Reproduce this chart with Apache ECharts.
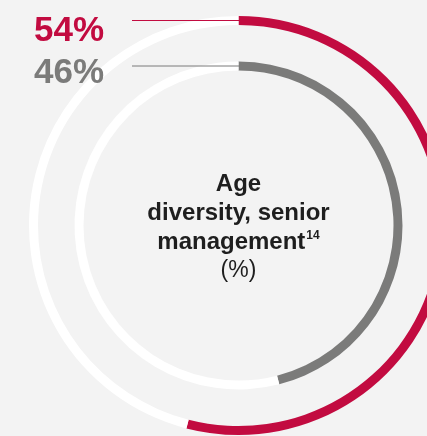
<!DOCTYPE html>
<html>
<head>
<meta charset="utf-8">
<script src="https://cdn.jsdelivr.net/npm/echarts@6/dist/echarts.min.js"></script>
<style>
  html, body { margin: 0; padding: 0; background: #f3f3f3; }
  #chart { width: 427px; height: 436px; }
</style>
</head>
<body>
<div id="chart"></div>
<script>
// Age diversity, senior management (%)
const groups = ['Group A', 'Group B'];
const shares = [54, 46];
const colors = ['#c20b40', '#7b7b7a'];
const trackColor = '#ffffff';

const cx = 238.5;
const cy = 225.5;
const rings = [
  [200.5, 209.5],
  [155, 164]
];
const labelTops = [14, 56];

const chart = echarts.init(document.getElementById('chart'));

const series = shares.map((v, i) => ({
  type: 'pie',
  silent: true,
  center: [cx, cy],
  radius: rings[i],
  startAngle: 90,
  clockwise: true,
  label: { show: false },
  labelLine: { show: false },
  emphasis: { disabled: true },
  itemStyle: { borderWidth: 0 },
  data: [
    { name: groups[i], value: v, itemStyle: { color: colors[i] } },
    { name: 'rest', value: 100 - v, itemStyle: { color: trackColor } }
  ]
}));

// leader lines + big percentage labels
const graphics = [];
shares.forEach((v, i) => {
  const y = cy - (rings[i][0] + rings[i][1]) / 2;
  graphics.push({
    type: 'line',
    silent: true,
    z: 100,
    shape: { x1: 132, y1: y, x2: cx + 1, y2: y },
    style: { stroke: colors[i], lineWidth: 1 }
  });
  graphics.push({
    type: 'text',
    silent: true,
    z: 100,
    left: 34,
    top: labelTops[i],
    style: {
      text: v + '%',
      fill: colors[i],
      font: 'bold 35px "Liberation Sans", Arial, sans-serif'
    }
  });
});

graphics.push({
  type: 'text',
  silent: true,
  z: 100,
  x: cx,
  y: 170,
  style: {
    text: '{b|Age}\n{b|diversity, senior}\n{b|management}{s|14}\n{r|(%)}',
    align: 'center',
    fill: '#1e1e1e',
    rich: {
      b: { font: 'bold 24px "Liberation Sans", Arial, sans-serif', lineHeight: 29, fill: '#1e1e1e' },
      s: { font: 'bold 12px "Liberation Sans", Arial, sans-serif', lineHeight: 29, fill: '#1e1e1e', verticalAlign: 'top', padding: [2, 0, 0, 1] },
      r: { font: '23px "Liberation Sans", Arial, sans-serif', lineHeight: 27, fill: '#1e1e1e' }
    }
  }
});

chart.setOption({
  backgroundColor: '#f3f3f3',
  animation: false,
  series: series,
  graphic: graphics
});
</script>
</body>
</html>
